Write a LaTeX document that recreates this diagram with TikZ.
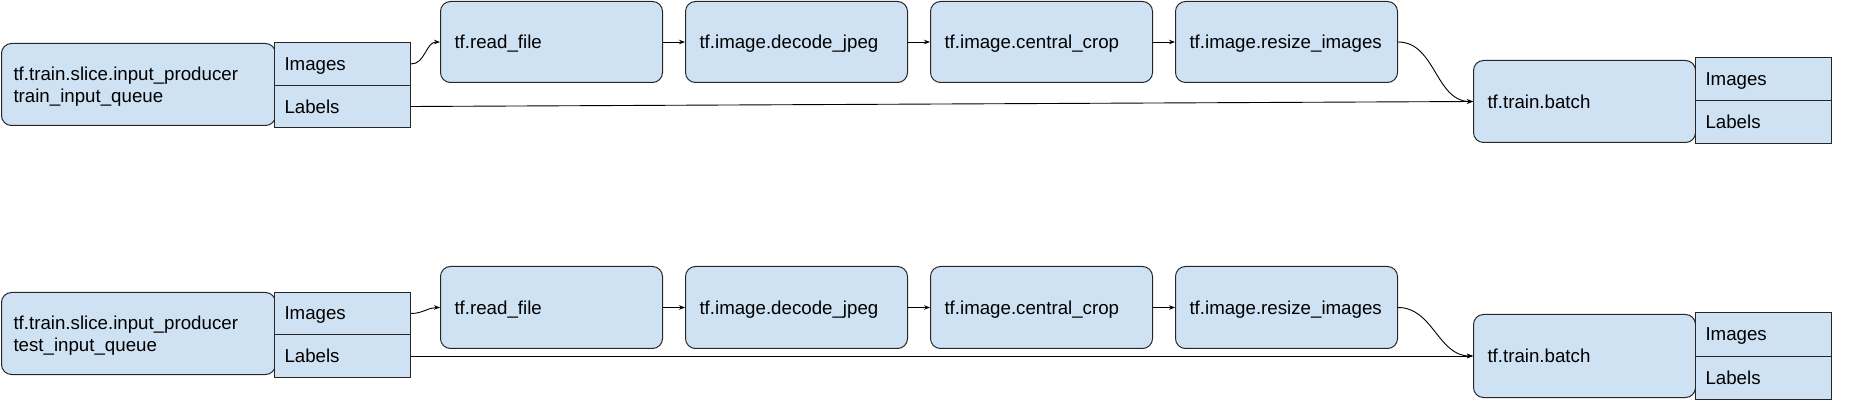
\documentclass[tikz,border=0pt]{standalone}
\usepackage{fontspec}
\setmainfont{Liberation Sans}
\usetikzlibrary{arrows.meta}
\definecolor{boxblue}{HTML}{CFE2F3}
\definecolor{edge}{HTML}{262626}
\newcommand\dfont{\fontsize{18.7}{22}\selectfont}
\tikzset{
  proc/.style={draw=edge, fill=boxblue, rounded corners=10pt, line width=1pt,
    anchor=north west, inner xsep=14pt, inner ysep=0pt, align=left, font=\dfont,
    text width=194pt, text depth=0pt, minimum height=81pt},
  srcbox/.style={proc, inner xsep=12pt, text width=250pt, text depth=21pt,
    minimum height=82pt},
  port/.style={draw=edge, fill=boxblue, line width=1pt, anchor=north west,
    inner xsep=10pt, inner ysep=0pt, align=left, font=\dfont, text width=116pt,
    text depth=0pt},
  conn/.style={draw=black, line width=0.9pt, -{Stealth[length=6pt,width=4.5pt]}},
}
\begin{document}
\begin{tikzpicture}[x=1pt,y=-1pt]
\useasboundingbox (0,0) rectangle (1849,419);
% ---------- top row ----------
\node[srcbox] (src1) at (1,43) {tf.train.slice.input\_producer\\train\_input\_queue};
\node[port, minimum height=43pt] (img1) at (274,42) {Images};
\node[port, minimum height=42pt] (lab1) at (274,85) {Labels};
\node[proc] (read1) at (440,1) {tf.read\_file};
\node[proc] (dec1) at (685,1) {tf.image.decode\_jpeg};
\node[proc] (crop1) at (930,1) {tf.image.central\_crop};
\node[proc] (res1) at (1175,1) {tf.image.resize\_images};
\node[proc, minimum height=82pt] (bat1) at (1473,60) {tf.train.batch};
\node[port, minimum height=43pt] (bimg1) at (1695,57) {Images};
\node[port, minimum height=43pt] (blab1) at (1695,100) {Labels};
\draw[conn] (img1.east) to[out=0,in=180] (read1.west);
\draw[conn] (read1.east) -- (dec1.west);
\draw[conn] (dec1.east) -- (crop1.west);
\draw[conn] (crop1.east) -- (res1.west);
\draw[conn] (res1.east) to[out=0,in=180] (bat1.west);
\draw[conn] (lab1.east) -- (bat1.west);
% ---------- bottom row ----------
\node[srcbox] (src2) at (1,292) {tf.train.slice.input\_producer\\test\_input\_queue};
\node[port, minimum height=42pt] (img2) at (274,292) {Images};
\node[port, minimum height=43pt] (lab2) at (274,334) {Labels};
\node[proc, minimum height=82pt] (read2) at (440,266) {tf.read\_file};
\node[proc, minimum height=82pt] (dec2) at (685,266) {tf.image.decode\_jpeg};
\node[proc, minimum height=82pt] (crop2) at (930,266) {tf.image.central\_crop};
\node[proc, minimum height=82pt] (res2) at (1175,266) {tf.image.resize\_images};
\node[proc, minimum height=83pt] (bat2) at (1473,314) {tf.train.batch};
\node[port, minimum height=44pt] (bimg2) at (1695,312) {Images};
\node[port, minimum height=43pt] (blab2) at (1695,356) {Labels};
\draw[conn] (img2.east) to[out=0,in=180] (read2.west);
\draw[conn] (read2.east) -- (dec2.west);
\draw[conn] (dec2.east) -- (crop2.west);
\draw[conn] (crop2.east) -- (res2.west);
\draw[conn] (res2.east) to[out=0,in=180] (bat2.west);
\draw[conn] (lab2.east) -- (bat2.west);
\end{tikzpicture}
\end{document}
